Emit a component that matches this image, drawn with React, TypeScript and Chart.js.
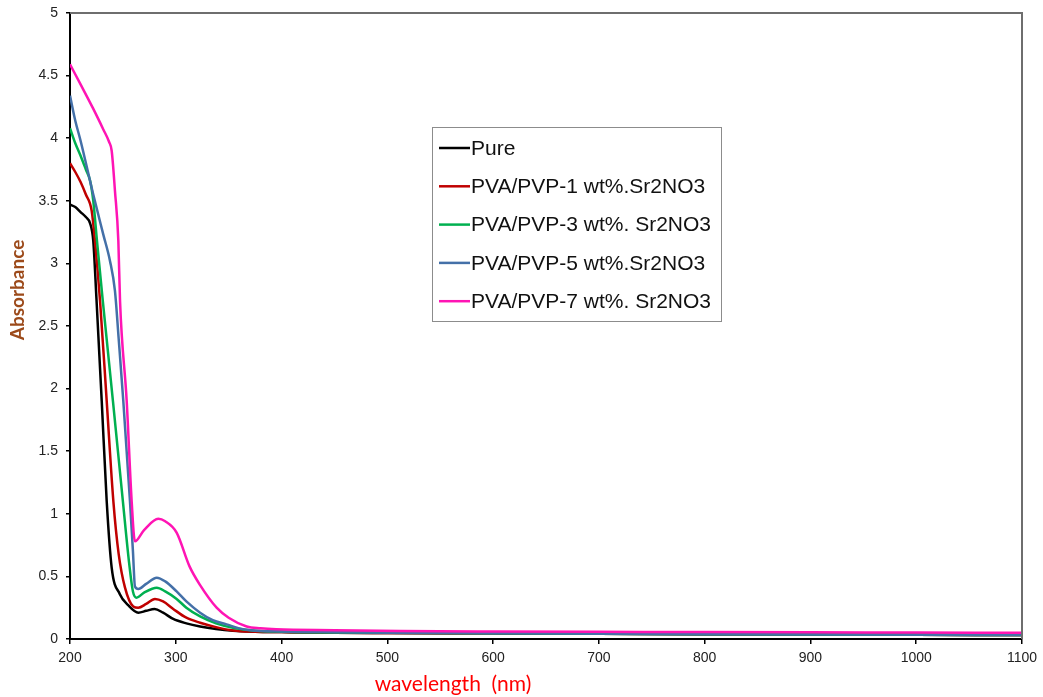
import React, { useEffect, useRef } from "react";
import { Chart, registerables } from "chart.js";

Chart.register(...registerables);

// ---- data ----
const seriesLabels = [
  "Pure",
  "PVA/PVP-1 wt%.Sr2NO3",
  "PVA/PVP-3 wt%. Sr2NO3",
  "PVA/PVP-5 wt%.Sr2NO3",
  "PVA/PVP-7 wt%. Sr2NO3",
];
const seriesColors = ["#000000", "#c00000", "#00b050", "#4470a8", "#ff14b4"];

const pureWl = [200, 205, 210, 215, 219, 222, 225, 230, 234.7, 239.4, 247, 255, 264.6, 272, 280, 288, 297.6, 310, 323, 338, 354, 375, 400, 450, 500, 600, 700, 800, 900, 1000, 1100];
const pureAbs = [3.47, 3.45, 3.41, 3.37, 3.32, 3.18, 2.72, 1.9, 1.1, 0.57, 0.36, 0.27, 0.21, 0.225, 0.24, 0.21, 0.16, 0.125, 0.1, 0.08, 0.066, 0.058, 0.055, 0.05, 0.048, 0.045, 0.042, 0.038, 0.035, 0.033, 0.032];

const pva1Wl = [200, 205, 210, 215, 220.5, 223.6, 228.4, 234.7, 241, 246, 252, 259.8, 264.6, 272, 280.3, 288, 297.6, 310, 323, 338, 354, 375, 400, 450, 500, 600, 700, 800, 900, 1000, 1100];
const pva1Abs = [3.8, 3.73, 3.65, 3.55, 3.42, 3.18, 2.7, 1.9, 1.1, 0.68, 0.41, 0.26, 0.25, 0.28, 0.32, 0.3, 0.24, 0.17, 0.13, 0.095, 0.068, 0.058, 0.055, 0.05, 0.048, 0.045, 0.042, 0.038, 0.035, 0.033, 0.032];

const pva3Wl = [200, 205, 210, 215, 219, 222, 225.5, 231, 240.6, 250, 256, 259.5, 263, 270, 282, 290, 300.8, 310, 323, 338, 354, 375, 400, 450, 500, 600, 700, 800, 900, 1000, 1100];
const pva3Abs = [4.08, 3.96, 3.86, 3.75, 3.66, 3.5, 3.18, 2.7, 1.9, 1.1, 0.6, 0.38, 0.33, 0.37, 0.41, 0.38, 0.32, 0.25, 0.18, 0.125, 0.09, 0.066, 0.058, 0.052, 0.05, 0.046, 0.042, 0.038, 0.035, 0.033, 0.032];

const pva5Wl = [200, 205, 210, 222, 231.5, 237.8, 242.5, 246, 250.4, 256.7, 259.5, 261.4, 264.6, 272, 282, 290, 300.8, 310, 323, 335, 348, 360, 373, 400, 450, 500, 600, 700, 800, 900, 1000, 1100];
const pva5Abs = [4.34, 4.14, 3.98, 3.55, 3.23, 3.02, 2.78, 2.4, 1.9, 1.1, 0.7, 0.42, 0.4, 0.44, 0.49, 0.46, 0.38, 0.3, 0.21, 0.15, 0.117, 0.085, 0.068, 0.06, 0.054, 0.05, 0.046, 0.042, 0.038, 0.035, 0.033, 0.032];

const pva7Wl = [200, 210, 221.7, 231.5, 237, 239.4, 242.5, 245.7, 247.3, 253.6, 258.3, 261.4, 270, 283.5, 290, 300.8, 313, 323, 338.6, 350, 367, 380, 395, 450, 512, 600, 700, 800, 900, 1000, 1100];
const pva7Abs = [4.59, 4.43, 4.24, 4.07, 3.97, 3.9, 3.58, 3.18, 2.7, 1.9, 1.1, 0.78, 0.87, 0.96, 0.94, 0.85, 0.58, 0.43, 0.25, 0.17, 0.1, 0.085, 0.077, 0.07, 0.064, 0.06, 0.057, 0.055, 0.053, 0.051, 0.05];

const seriesWl = [pureWl, pva1Wl, pva3Wl, pva5Wl, pva7Wl];
const seriesAbs = [pureAbs, pva1Abs, pva3Abs, pva5Abs, pva7Abs];

const xTitle = "wavelength  (nm)";
const yTitle = "Absorbance";
const xMin = 200, xMax = 1100, xStep = 100;
const yMin = 0, yMax = 5, yStep = 0.5;

const decorPlugin = {
  id: "decor",
  afterDatasetsDraw(chart: any) {
    const { ctx, chartArea } = chart;
    const { left, right, top, bottom } = chartArea;
    ctx.save();
    ctx.strokeStyle = "#6e6e6e";
    ctx.lineWidth = 2;
    ctx.beginPath();
    ctx.moveTo(left, top);
    ctx.lineTo(right, top);
    ctx.lineTo(right, bottom);
    ctx.stroke();
    ctx.restore();
  },
  afterDraw(chart: any) {
    const { ctx } = chart;
    ctx.save();
    // legend box
    const bx = 432, by = 127, bw = 289, bh = 194;
    ctx.fillStyle = "#ffffff";
    ctx.fillRect(bx, by, bw, bh);
    ctx.strokeStyle = "#8c8c8c";
    ctx.lineWidth = 1;
    ctx.strokeRect(bx + 0.5, by + 0.5, bw, bh);
    seriesLabels.forEach((label: string, i: number) => {
      const ds = chart.data.datasets.find((d: any) => d.label === label);
      const y = 148 + i * 38.3;
      ctx.strokeStyle = ds.borderColor;
      ctx.lineWidth = 2.5;
      ctx.beginPath();
      ctx.moveTo(439, y);
      ctx.lineTo(470, y);
      ctx.stroke();
      ctx.fillStyle = "#111111";
      ctx.font = '21px "Liberation Sans", Arial, sans-serif';
      ctx.textAlign = "left";
      ctx.textBaseline = "middle";
      ctx.fillText(ds.label, 471, y + 1);
    });
    // axis titles
    ctx.fillStyle = "#ff0000";
    ctx.font = '21px Lato, "Open Sans", sans-serif';
    ctx.textAlign = "center";
    ctx.textBaseline = "middle";
    ctx.fillText(xTitle, 453, 684);
    ctx.save();
    ctx.translate(18, 290);
    ctx.rotate(-Math.PI / 2);
    ctx.fillStyle = "#9c4a1a";
    ctx.font = 'bold 19px Lato, "Open Sans", sans-serif';
    ctx.fillText(yTitle, 0, 0);
    ctx.restore();
    ctx.restore();
  },
};

export default function App() {
  const ref = useRef<HTMLCanvasElement>(null);
  useEffect(() => {
    document.body.style.margin = "0";
    const canvas = ref.current!;
    // drawn in reverse so "Pure" ends on top
    const datasets = seriesLabels
      .map((label, i) => ({
        label,
        data: seriesWl[i].map((x, j) => ({ x, y: seriesAbs[i][j] })),
        borderColor: seriesColors[i],
        backgroundColor: seriesColors[i],
        borderWidth: 2.5,
        pointRadius: 0,
        cubicInterpolationMode: "monotone" as const,
        fill: false,
      }))
      .reverse();
    const tickFont = { family: '"Liberation Sans", Arial, sans-serif', size: 14 };
    const chart = new Chart(canvas, {
      type: "line",
      data: { datasets: datasets as any },
      options: {
        animation: false,
        responsive: false,
        layout: { padding: { left: 0, right: 21, top: 13, bottom: 0 } },
        plugins: { legend: { display: false }, tooltip: { enabled: false } },
        scales: {
          x: {
            type: "linear",
            min: xMin,
            max: xMax,
            ticks: {
              stepSize: xStep,
              color: "#222",
              font: tickFont,
              padding: 6,
              maxRotation: 0,
              callback: (v: any) => String(v),
            },
            grid: { display: true, drawOnChartArea: false, drawTicks: true, tickLength: 5, color: "#000", lineWidth: 1.5 },
            border: { display: true, color: "#000", width: 2 },
            afterFit: (s: any) => { s.height = 58; s.paddingLeft = 0; s.paddingRight = 0; },
          },
          y: {
            type: "linear",
            min: yMin,
            max: yMax,
            ticks: {
              stepSize: yStep,
              color: "#222",
              font: tickFont,
              padding: 8,
              callback: (v: any) => String(v),
            },
            grid: { display: true, drawOnChartArea: false, drawTicks: true, tickLength: 4, color: "#000", lineWidth: 1.5 },
            border: { display: true, color: "#000", width: 2 },
            afterFit: (s: any) => { s.width = 70; s.paddingTop = 0; s.paddingBottom = 0; },
          },
        },
      },
      plugins: [decorPlugin],
    });
    return () => chart.destroy();
  }, []);
  return <canvas ref={ref} width={1043} height={697} style={{ display: "block" }} />;
}
